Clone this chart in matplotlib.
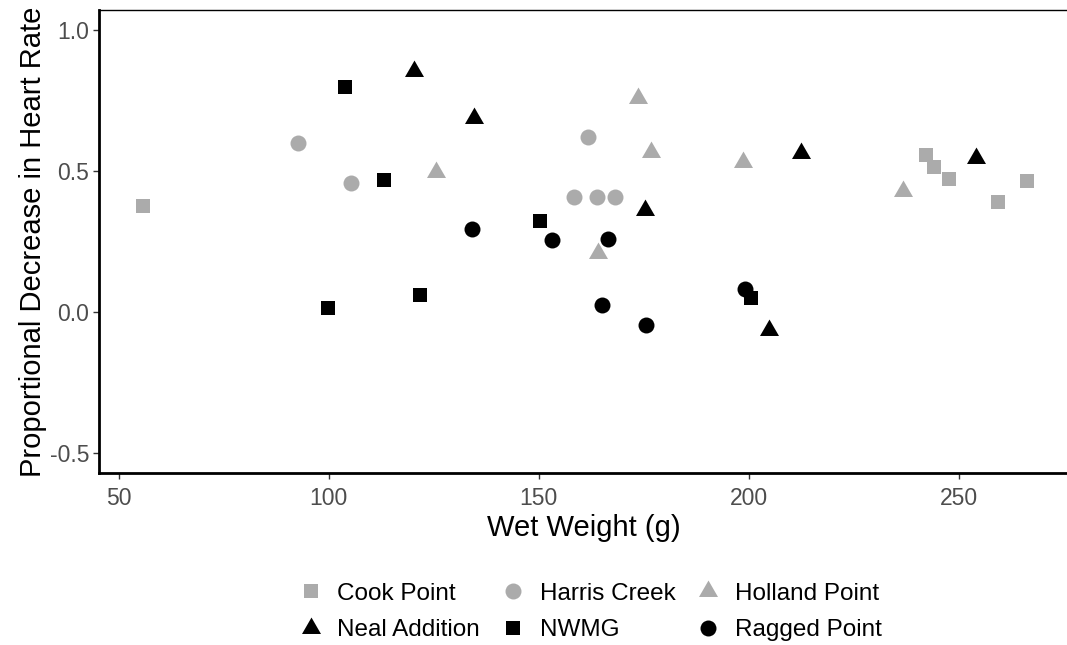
import matplotlib
matplotlib.use("Agg")
import matplotlib.pyplot as plt

plt.rcParams['font.family'] = ['Liberation Sans', 'DejaVu Sans']

# Data (Wet Weight g, Proportional Decrease in Heart Rate)
cook_x = [55.8, 242.1, 244.1, 247.6, 259.3, 266.3]
cook_y = [0.376, 0.557, 0.515, 0.470, 0.388, 0.465]

harris_x = [92.6, 105.2, 161.6, 158.4, 163.8, 168.1]
harris_y = [0.600, 0.457, 0.622, 0.409, 0.409, 0.409]

holland_x = [125.5, 173.6, 176.8, 198.7, 236.6, 164.1]
holland_y = [0.495, 0.757, 0.566, 0.530, 0.428, 0.209]

neal_x = [120.4, 134.5, 175.4, 212.4, 254.2, 204.7]
neal_y = [0.855, 0.688, 0.362, 0.562, 0.547, -0.066]

nwmg_x = [103.9, 113.1, 99.7, 121.7, 150.4, 200.4]
nwmg_y = [0.799, 0.468, 0.014, 0.061, 0.323, 0.048]

ragged_x = [134.1, 153.1, 166.5, 165.1, 175.6, 199.0]
ragged_y = [0.293, 0.255, 0.260, 0.024, -0.046, 0.080]

x_ticks = [50, 100, 150, 200, 250]
y_ticks = [-0.5, 0.0, 0.5, 1.0]
y_tick_labels = ["-0.5", "0.0", "0.5", "1.0"]

GREY = "#ABABAB"
BLACK = "#000000"
TRI = [(0, 1), (-0.866, -0.5), (0.866, -0.5)]

series = [
    ("Cook Point", cook_x, cook_y, "s", GREY, 10.4),
    ("Harris Creek", harris_x, harris_y, "o", GREY, 11.5),
    ("Holland Point", holland_x, holland_y, TRI, GREY, 15.8),
    ("Neal Addition", neal_x, neal_y, TRI, BLACK, 15.8),
    ("NWMG", nwmg_x, nwmg_y, "s", BLACK, 10.4),
    ("Ragged Point", ragged_x, ragged_y, "o", BLACK, 11.5),
]

fig = plt.figure(figsize=(10.67, 6.45), dpi=100)
ax = fig.add_axes([0.0928, 0.2667, 0.9082, 0.7178])

handles = {}
for name, xs, ys, m, c, ms in series:
    h, = ax.plot(xs, ys, linestyle="none", marker=m, color=c,
                 markersize=ms, markeredgewidth=0, label=name)
    handles[name] = h

ax.set_xlim(45.3, 276.0)
ax.set_ylim(-0.572, 1.071)
ax.set_xticks(x_ticks)
ax.set_yticks(y_ticks)
ax.set_yticklabels(y_tick_labels)

ax.tick_params(axis="both", labelsize=16.5, labelcolor="#4D4D4D",
               color="#333333", length=4, width=1.0, direction="out")
ax.tick_params(axis="x", pad=6)
ax.tick_params(axis="y", pad=3)

for s in ["left", "bottom"]:
    ax.spines[s].set_linewidth(2.0)
    ax.spines[s].set_color("black")
ax.spines["top"].set_linewidth(1.0)
ax.spines["top"].set_color("black")
ax.spines["right"].set_visible(False)

ax.set_xlabel("Wet Weight (g)", fontsize=21, color="black", labelpad=3)
ax.set_ylabel("Proportional Decrease in Heart Rate", fontsize=21,
              color="black", labelpad=2)

order = ["Cook Point", "Neal Addition", "Harris Creek", "NWMG",
         "Holland Point", "Ragged Point"]
leg = fig.legend([handles[n] for n in order], order, ncol=3,
                 loc="center", bbox_to_anchor=(0.553, 0.051),
                 frameon=False, fontsize=17.5, handlelength=1.0,
                 handletextpad=0.6, columnspacing=0.85, labelspacing=0.6)

fig.savefig("out.png", dpi=100)
